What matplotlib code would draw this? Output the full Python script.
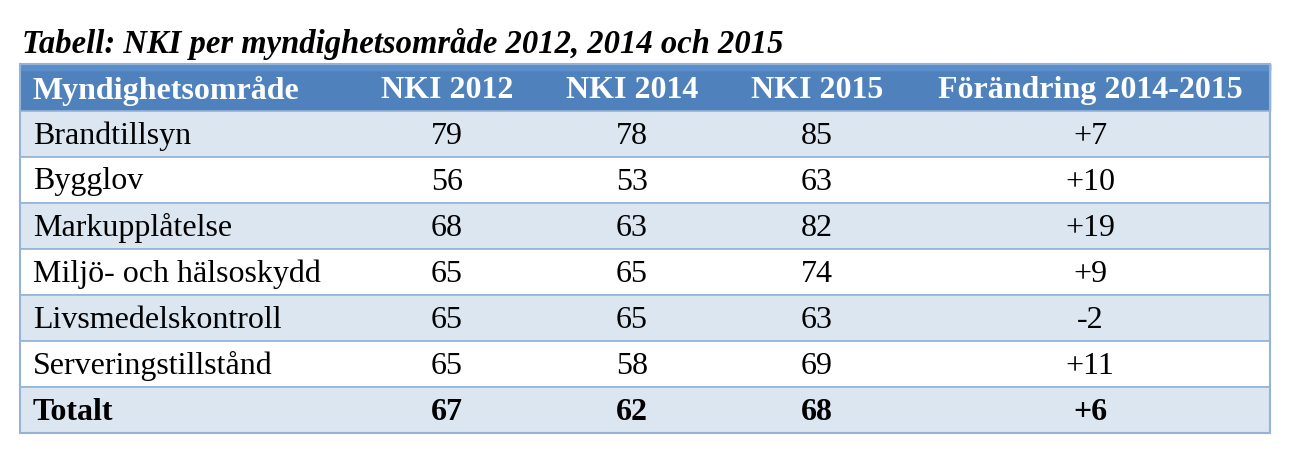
import matplotlib.pyplot as plt
from matplotlib.patches import Rectangle

title = "Tabell: NKI per myndighetsområde 2012, 2014 och 2015"
headers = ["Myndighetsområde", "NKI 2012", "NKI 2014", "NKI 2015", "Förändring 2014-2015"]
areas = ["Brandtillsyn", "Bygglov", "Markupplåtelse", "Miljö- och hälsoskydd",
         "Livsmedelskontroll", "Serveringstillstånd", "Totalt"]
nki_2012 = [79, 56, 68, 65, 65, 65, 67]
nki_2014 = [78, 53, 63, 65, 65, 58, 62]
nki_2015 = [85, 63, 82, 74, 63, 69, 68]
change = ["+7", "+10", "+19", "+9", "-2", "+11", "+6"]

plt.rcParams['font.family'] = ['Liberation Serif', 'DejaVu Serif']

fig = plt.figure(figsize=(12.99, 4.75), dpi=100)
ax = fig.add_axes([0, 0, 1, 1])
ax.set_xlim(0, 1299)
ax.set_ylim(475, 0)
ax.axis('off')

left, right = 20, 1270
top, head_h, row_h = 64, 47, 46
col_x = [33, 447, 632, 817, 1090]
fs = 23
border = '#95B3D7'

ax.text(22, 44, title, fontsize=23.5, fontweight='bold', fontstyle='italic', va='center')

# header
ax.add_patch(Rectangle((left, top), right - left, head_h, color='#4F81BD', zorder=1))
ax.add_patch(Rectangle((left, top), right - left, 6, color='#5B8FCC', zorder=1))
for i, h in enumerate(headers):
    ax.text(col_x[i], top + head_h / 2 + 3, h, fontsize=fs, fontweight='bold', color='white',
            ha='left' if i == 0 else 'center', va='center', zorder=3)

for r, name in enumerate(areas):
    y0 = top + head_h + r * row_h
    fc = '#DCE6F1' if r % 2 == 0 else 'white'
    ax.add_patch(Rectangle((left, y0), right - left, row_h, facecolor=fc, edgecolor=border,
                           linewidth=1.2, zorder=1))
    bold = 'bold' if name == "Totalt" else 'normal'
    vals = [name, nki_2012[r], nki_2014[r], nki_2015[r], change[r]]
    for i, v in enumerate(vals):
        ax.text(col_x[i], y0 + row_h / 2 + 2, str(v), fontsize=fs, fontweight=bold,
                ha='left' if i == 0 else 'center', va='center', zorder=3)

bottom = top + head_h + len(areas) * row_h
ax.add_patch(Rectangle((left, top), right - left, bottom - top, fill=False, edgecolor=border,
                       linewidth=1.5, zorder=2))

fig.savefig('out.png', dpi=100)
